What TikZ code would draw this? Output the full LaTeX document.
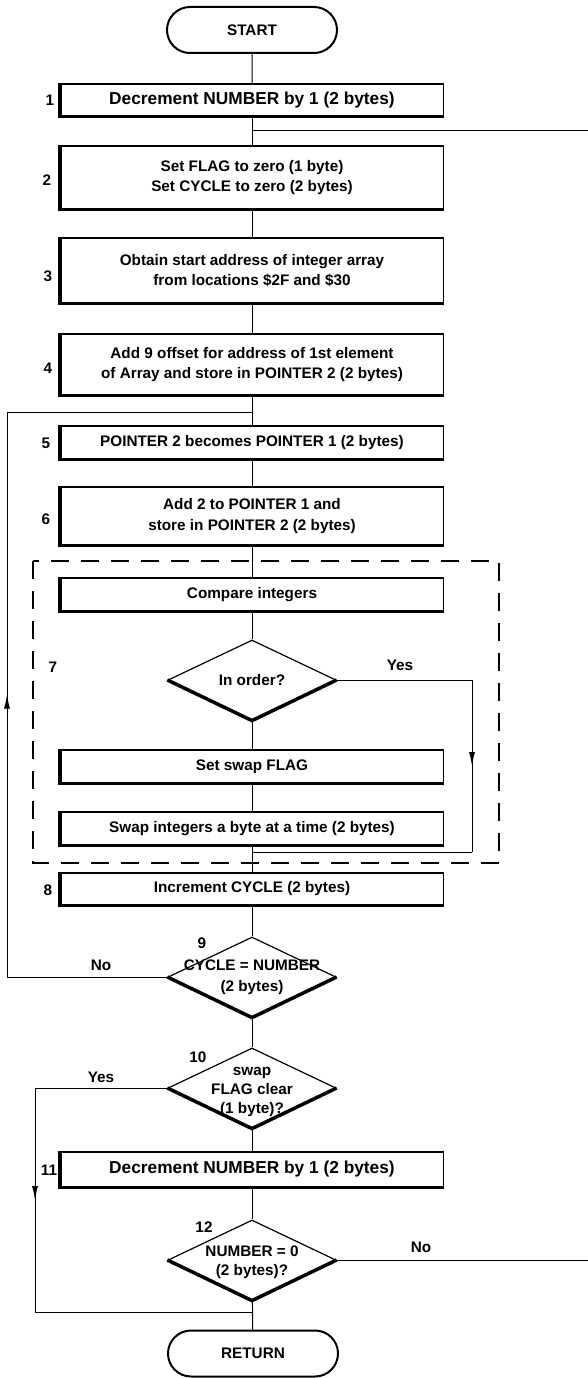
\documentclass[tikz,border=0pt]{standalone}
\usepackage{fontspec}
\setmainfont{Liberation Sans}
\usetikzlibrary{shapes.geometric,shapes.misc,arrows.meta,decorations.markings}

\tikzset{
  every node/.style={font=\fontsize{15.3}{20.5}\selectfont\bfseries},
  process/.style={draw, line width=1.2pt, rectangle, minimum width=383pt, inner sep=0pt, align=center},
  decision/.style={draw, line width=1.2pt, diamond, minimum width=168pt, minimum height=80pt, inner sep=0pt},
  terminal/.style={draw, line width=2pt, rounded rectangle, minimum width=170pt, minimum height=46pt, inner sep=0pt},
  bigtext/.style={font=\fontsize{17.3}{20.5}\selectfont\bfseries},
  heavy/.style={line width=3.5pt},
  flow/.style={line width=1pt},
  midarrow/.style={postaction={decorate}, decoration={markings, mark=at position 0.5 with {\arrow{Latex[length=14pt,width=6pt]}}}},
  dashbox/.style={line width=1.3pt, dash pattern=on 18pt off 12pt}
}

\begin{document}
\begin{tikzpicture}[x=1pt, y=-1pt]
\useasboundingbox (0,0) rectangle (588,1378);

% start and the set up
\node[terminal] (start) at (252,30) {START};
\node[process, bigtext, minimum height=32pt] (b1) at (252,100) {Decrement NUMBER by 1 (2 bytes)};
\node[process, minimum height=63pt] (b2) at (252,177.5) {Set FLAG to zero (1 byte)\\Set CYCLE to zero (2 bytes)};
\node[process, minimum height=65pt] (b3) at (252,270.5) {Obtain start address of integer array\\from locations \$2F and \$30};
\node[process, minimum height=61pt] (b4) at (252,364.5) {Add 9 offset for address of 1st element\\of Array and store in POINTER 2 (2 bytes)};
\node[process, minimum height=33pt] (b5) at (252,442.5) {POINTER 2 becomes POINTER 1 (2 bytes)};
\node[process, minimum height=58pt] (b6) at (252,516) {Add 2 to POINTER 1 and\\store in POINTER 2 (2 bytes)};

% compare and swap
\node[process, minimum height=33pt] (cmp) at (252,594.5) {Compare integers};
\node[decision] (d7) at (252,680) {};
\node (t7) at (d7) {In order?};
\node[process, minimum height=33pt] (swf) at (252,766.5) {Set swap FLAG};
\node[process, minimum height=33pt] (swi) at (252,828.5) {Swap integers a byte at a time (2 bytes)};
\draw[dashbox] (33,561) rectangle (499,863);

% end of pass
\node[process, minimum height=32pt] (b8) at (252,889) {Increment CYCLE (2 bytes)};
\node[decision] (d9) at (252,977) {};
\node[align=center] (t9) at (d9) {CYCLE = NUMBER\\(2 bytes)};
\node[decision] (d10) at (252,1088) {};
\node[align=center, font=\fontsize{15.3}{19}\selectfont\bfseries] (t10) at ([yshift=-4pt]d10) {swap\\FLAG clear\\(1 byte)?};
\node[process, bigtext, minimum height=35pt] (b11) at (252,1169.5) {Decrement NUMBER by 1 (2 bytes)};
\node[decision] (d12) at (252,1260) {};
\node[align=center, font=\fontsize{15.3}{19}\selectfont\bfseries] (t12) at ([yshift=-2pt]d12) {NUMBER = 0\\(2 bytes)?};
\node[terminal] (ret) at (253,1353.5) {RETURN};

% heavy edges
\foreach \b in {b1,b2,b3,b4,b5,b6,cmp,swf,swi,b8,b11}
  \draw[heavy] (\b.north west) -- (\b.south west) -- (\b.south east);
\foreach \d in {d7,d9,d10,d12}
  \draw[heavy] (\d.west) -- (\d.south) -- (\d.east);

% step numbers
\node (n1) at (50,100) {1};
\node (n2) at (47,180) {2};
\node (n3) at (48,276) {3};
\node (n4) at (48,368) {4};
\node (n5) at (46,443) {5};
\node (n6) at (46,519) {6};
\node (n7) at (53,667) {7};
\node (n8) at (48,890) {8};
\node (n9) at (202,943) {9};
\node (n10) at (198,1057) {10};
\node (n11) at (49,1170) {11};
\node (n12) at (204,1227) {12};

% answers
\node (yes7) at (400,665) {Yes};
\node (no9) at (101,965) {No};
\node (yes10) at (101,1077) {Yes};
\node (no12) at (421,1247) {No};

% corners
\coordinate (j1) at (252,131);
\coordinate (r1) at (588,131);
\coordinate (j5) at (252,412);
\coordinate (l5) at (7,412);
\coordinate (l9) at (7,977);
\coordinate (y7a) at (472,680);
\coordinate (y7b) at (472,852);
\coordinate (j7) at (252,852);
\coordinate (y10a) at (35,1088);
\coordinate (y10b) at (35,1312);
\coordinate (j12) at (252,1312);
\coordinate (r12) at (588,1260);

% flow lines
\draw[flow] (start) -- (b1);
\draw[flow] (b1) -- (b2);
\draw[flow] (j1) -- (r1);
\draw[flow] (b2) -- (b3);
\draw[flow] (b3) -- (b4);
\draw[flow] (b4) -- (b5);
\draw[flow] (l5) -- (j5);
\draw[flow] (b5) -- (b6);
\draw[flow] (b6) -- (cmp);
\draw[flow] (cmp) -- (d7);
\draw[flow] (d7) -- (swf);
\draw[flow] (swf) -- (swi);
\draw[flow] (swi) -- (b8);
\draw[flow] (d7.east) -- (y7a);
\draw[flow, midarrow] (y7a) -- (y7b);
\draw[flow] (y7b) -- (j7);
\draw[flow] (b8) -- (d9);
\draw[flow] (d9.west) -- (l9);
\draw[flow, midarrow] (l9) -- (l5);
\draw[flow] (d9) -- (d10);
\draw[flow] (d10.west) -- (y10a);
\draw[flow, midarrow] (y10a) -- (y10b);
\draw[flow] (y10b) -- (j12);
\draw[flow] (d10) -- (b11);
\draw[flow] (b11) -- (d12);
\draw[flow] (d12) -- (ret);
\draw[flow] (d12.east) -- (r12);

\end{tikzpicture}
\end{document}
